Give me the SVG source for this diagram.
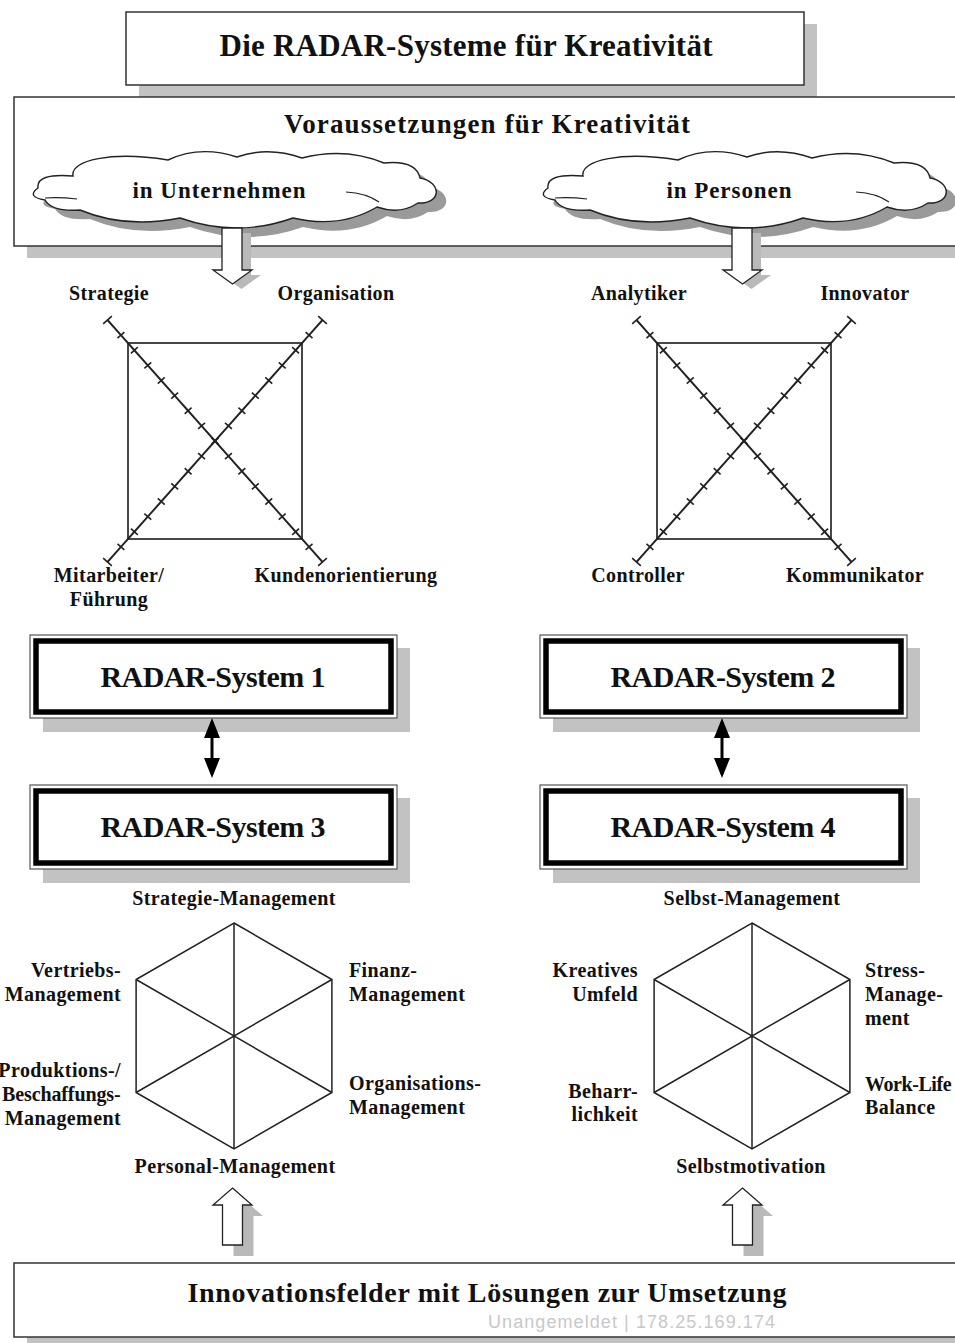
<svg xmlns="http://www.w3.org/2000/svg" width="955" height="1343" viewBox="0 0 955 1343">
<defs>
<style>
text { font-family: "Liberation Serif", "Times New Roman", serif; font-weight: bold; fill: #111; }
.lbl { font-size: 20px; letter-spacing: 0.4px; }
.shadow { fill: #c2c2c2; }
.box { fill: #fff; stroke: #333; stroke-width: 1.5; }
.sysOuter { fill: #fff; stroke: #555; stroke-width: 1.2; }
.sysInner { fill: none; stroke: #000; stroke-width: 5.5; }
.sysText { font-size: 30px; }
.cloud { fill: #fff; stroke: #222; stroke-width: 1.4; }
.cloudShadow { fill: #9a9a9a; stroke: none; }
.fold { fill: none; stroke: #222; stroke-width: 1.2; }
.frame { fill: none; stroke: #333; stroke-width: 1.8; }
.axis { fill: none; stroke: #222; stroke-width: 1.9; marker-start: url(#cap); marker-mid: url(#tick); marker-end: url(#cap); }
.hex { fill: none; stroke: #222; stroke-width: 1.5; }
.block { fill: #fff; stroke: #222; stroke-width: 1.3; }
.blockShadow { fill: #b9b9b9; stroke: none; }
.dbl { fill: none; stroke: #000; stroke-width: 3; marker-start: url(#head); marker-end: url(#head); }
.wm { font-family: "Liberation Sans", Arial, sans-serif; font-weight: normal; fill: #c8c8c8; font-size: 18px; }
</style>
<marker id="tick" markerUnits="userSpaceOnUse" markerWidth="10" markerHeight="10" refX="0" refY="0" orient="auto" overflow="visible">
<path d="M0,-4.6V4.6" stroke="#222" stroke-width="1.6"/>
</marker>
<marker id="cap" markerUnits="userSpaceOnUse" markerWidth="12" markerHeight="12" refX="0" refY="0" orient="auto" overflow="visible">
<path d="M0,-5.8V5.8" stroke="#222" stroke-width="1.6"/>
</marker>
<marker id="head" markerUnits="userSpaceOnUse" markerWidth="20" markerHeight="16" refX="16" refY="8" orient="auto-start-reverse">
<path d="M0,0 L20,8 L0,16 Z" fill="#000"/>
</marker>
<path id="cloudShape" d="M38,188 Q36,173 73,176 C70,160 112,151 168,160 Q200,145 237,157 Q268,146 302,158 Q345,147 384,163 Q416,160 420,178 C442,182 442,204 418,203 Q400,215 377,207 Q340,229 293,218 Q237,238 180,218 Q125,229 80,210 Q52,212 45,200 Q26,197 38,188 Z"/>
<path id="downArrow" d="M222,228 L222,270 L213,270 L232.5,284 L252,270 L242,270 L242,228 Z"/>
<path id="upArrow" d="M232.5,1188 L252,1205 L242.5,1205 L242.5,1245 L222.5,1245 L222.5,1205 L213,1205 Z"/>
</defs>

<rect width="955" height="1343" fill="#fff"/>

<g id="title">
<rect class="shadow" x="139" y="24" width="678" height="73"/>
<rect class="box" x="126" y="12" width="678" height="73"/>
<text x="466" y="56" font-size="31" text-anchor="middle" textLength="493">Die RADAR-Systeme für Kreativität</text>
</g>

<g id="voraussetzungen">
<rect class="shadow" x="27" y="109" width="960" height="149"/>
<rect class="box" x="14" y="97" width="960" height="149"/>
<text x="487" y="133" font-size="27" text-anchor="middle" textLength="406">Voraussetzungen für Kreativität</text>
</g>

<g id="cloud-unternehmen">
<use href="#cloudShape" class="cloudShadow" transform="translate(10,9)"/>
<use href="#cloudShape" class="cloud"/>
<path class="fold" d="M45,198 Q60,197 77,199 M346,192 Q366,193 379,202"/>
<text x="219" y="198" font-size="23" text-anchor="middle" textLength="173">in Unternehmen</text>
</g>

<g id="cloud-personen">
<use href="#cloudShape" class="cloudShadow" transform="translate(520,9)"/>
<use href="#cloudShape" class="cloud" transform="translate(510,0)"/>
<path class="fold" d="M555,198 Q570,197 587,199 M856,192 Q876,193 889,202"/>
<text x="729" y="198" font-size="23" text-anchor="middle" textLength="125">in Personen</text>
</g>

<g id="radar-unternehmen">
<rect class="frame" x="128" y="343" width="174" height="196"/>
<path class="axis" d="M107.5,320 l13.4375,15.125 13.4375,15.125 13.4375,15.125 13.4375,15.125 13.4375,15.125 13.4375,15.125 13.4375,15.125 13.4375,15.125 13.4375,15.125 13.4375,15.125 13.4375,15.125 13.4375,15.125 13.4375,15.125 13.4375,15.125 13.4375,15.125 13.4375,15.125"/>
<path class="axis" d="M322.5,320 l-13.4375,15.125 -13.4375,15.125 -13.4375,15.125 -13.4375,15.125 -13.4375,15.125 -13.4375,15.125 -13.4375,15.125 -13.4375,15.125 -13.4375,15.125 -13.4375,15.125 -13.4375,15.125 -13.4375,15.125 -13.4375,15.125 -13.4375,15.125 -13.4375,15.125 -13.4375,15.125"/>
<text class="lbl" x="109" y="300" text-anchor="middle">Strategie</text>
<text class="lbl" x="336" y="300" text-anchor="middle">Organisation</text>
<text class="lbl" x="109" y="582" text-anchor="middle">Mitarbeiter/</text>
<text class="lbl" x="109" y="606" text-anchor="middle">Führung</text>
<text class="lbl" x="346" y="582" text-anchor="middle">Kundenorientierung</text>
</g>

<g id="radar-personen">
<g transform="translate(529,0)">
<rect class="frame" x="128" y="343" width="174" height="196"/>
<path class="axis" d="M107.5,320 l13.4375,15.125 13.4375,15.125 13.4375,15.125 13.4375,15.125 13.4375,15.125 13.4375,15.125 13.4375,15.125 13.4375,15.125 13.4375,15.125 13.4375,15.125 13.4375,15.125 13.4375,15.125 13.4375,15.125 13.4375,15.125 13.4375,15.125 13.4375,15.125"/>
<path class="axis" d="M322.5,320 l-13.4375,15.125 -13.4375,15.125 -13.4375,15.125 -13.4375,15.125 -13.4375,15.125 -13.4375,15.125 -13.4375,15.125 -13.4375,15.125 -13.4375,15.125 -13.4375,15.125 -13.4375,15.125 -13.4375,15.125 -13.4375,15.125 -13.4375,15.125 -13.4375,15.125 -13.4375,15.125"/>
</g>
<text class="lbl" x="639" y="300" text-anchor="middle">Analytiker</text>
<text class="lbl" x="865" y="300" text-anchor="middle">Innovator</text>
<text class="lbl" x="638" y="582" text-anchor="middle">Controller</text>
<text class="lbl" x="855" y="582" text-anchor="middle">Kommunikator</text>
</g>

<g id="radar-system-1">
<rect class="shadow" x="43" y="648" width="367" height="84"/>
<rect class="sysOuter" x="30" y="635" width="367" height="83"/>
<rect class="sysInner" x="36" y="641" width="355" height="71"/>
<text class="sysText" x="213" y="687" text-anchor="middle" textLength="225">RADAR-System 1</text>
</g>

<g id="radar-system-3">
<rect class="shadow" x="43" y="798" width="367" height="85"/>
<rect class="sysOuter" x="30" y="785" width="367" height="84"/>
<rect class="sysInner" x="36" y="791" width="355" height="72"/>
<text class="sysText" x="213" y="837" text-anchor="middle" textLength="225">RADAR-System 3</text>
</g>

<g id="radar-system-2">
<rect class="shadow" x="553" y="648" width="367" height="84"/>
<rect class="sysOuter" x="540" y="635" width="367" height="83"/>
<rect class="sysInner" x="546" y="641" width="355" height="71"/>
<text class="sysText" x="723" y="687" text-anchor="middle" textLength="225">RADAR-System 2</text>
</g>

<g id="radar-system-4">
<rect class="shadow" x="553" y="798" width="367" height="85"/>
<rect class="sysOuter" x="540" y="785" width="367" height="84"/>
<rect class="sysInner" x="546" y="791" width="355" height="72"/>
<text class="sysText" x="723" y="837" text-anchor="middle" textLength="225">RADAR-System 4</text>
</g>

<g id="hexagon-management">
<polygon class="hex" points="234,923 331.9,979.5 331.9,1092.5 234,1149 136.1,1092.5 136.1,979.5"/>
<path class="hex" d="M234,923 L234,1149 M331.9,979.5 L136.1,1092.5 M331.9,1092.5 L136.1,979.5"/>
<text class="lbl" x="234" y="905" text-anchor="middle">Strategie-Management</text>
<text class="lbl" x="121" y="977" text-anchor="end">Vertriebs-</text>
<text class="lbl" x="121" y="1001" text-anchor="end">Management</text>
<text class="lbl" x="349" y="977">Finanz-</text>
<text class="lbl" x="349" y="1001">Management</text>
<text class="lbl" x="121" y="1077" text-anchor="end">Produktions-/</text>
<text class="lbl" x="121" y="1101" text-anchor="end" textLength="119">Beschaffungs-</text>
<text class="lbl" x="121" y="1125" text-anchor="end">Management</text>
<text class="lbl" x="349" y="1090">Organisations-</text>
<text class="lbl" x="349" y="1114">Management</text>
<text class="lbl" x="235" y="1173" text-anchor="middle">Personal-Management</text>
</g>

<g id="hexagon-selbst">
<polygon class="hex" points="752,923 849.9,979.5 849.9,1092.5 752,1149 654.1,1092.5 654.1,979.5"/>
<path class="hex" d="M752,923 L752,1149 M849.9,979.5 L654.1,1092.5 M849.9,1092.5 L654.1,979.5"/>
<text class="lbl" x="752" y="905" text-anchor="middle">Selbst-Management</text>
<text class="lbl" x="638" y="977" text-anchor="end">Kreatives</text>
<text class="lbl" x="638" y="1001" text-anchor="end">Umfeld</text>
<text class="lbl" x="865" y="977">Stress-</text>
<text class="lbl" x="865" y="1001">Manage-</text>
<text class="lbl" x="865" y="1025">ment</text>
<text class="lbl" x="638" y="1098" text-anchor="end">Beharr-</text>
<text class="lbl" x="638" y="1121" text-anchor="end">lichkeit</text>
<text class="lbl" x="865" y="1091" textLength="87">Work-Life</text>
<text class="lbl" x="865" y="1114">Balance</text>
<text class="lbl" x="751" y="1173" text-anchor="middle">Selbstmotivation</text>
</g>

<g id="innovationsfelder">
<rect class="shadow" x="27" y="1275" width="960" height="74"/>
<rect class="box" x="14" y="1263" width="960" height="74"/>
<text x="487" y="1302" font-size="28" text-anchor="middle" textLength="599">Innovationsfelder mit Lösungen zur Umsetzung</text>
<text class="wm" x="488" y="1328" textLength="287">Unangemeldet | 178.25.169.174</text>
</g>

<g id="connectors">
<use href="#downArrow" class="blockShadow" transform="translate(9,5)"/>
<use href="#downArrow" class="block"/>
<use href="#downArrow" class="blockShadow" transform="translate(519,5)"/>
<use href="#downArrow" class="block" transform="translate(510,0)"/>
<path class="dbl" d="M212,722 L212,774"/>
<path class="dbl" d="M722,722 L722,774"/>
<use href="#upArrow" class="blockShadow" transform="translate(11,11)"/>
<use href="#upArrow" class="block"/>
<use href="#upArrow" class="blockShadow" transform="translate(521,11)"/>
<use href="#upArrow" class="block" transform="translate(510,0)"/>
</g>
</svg>
